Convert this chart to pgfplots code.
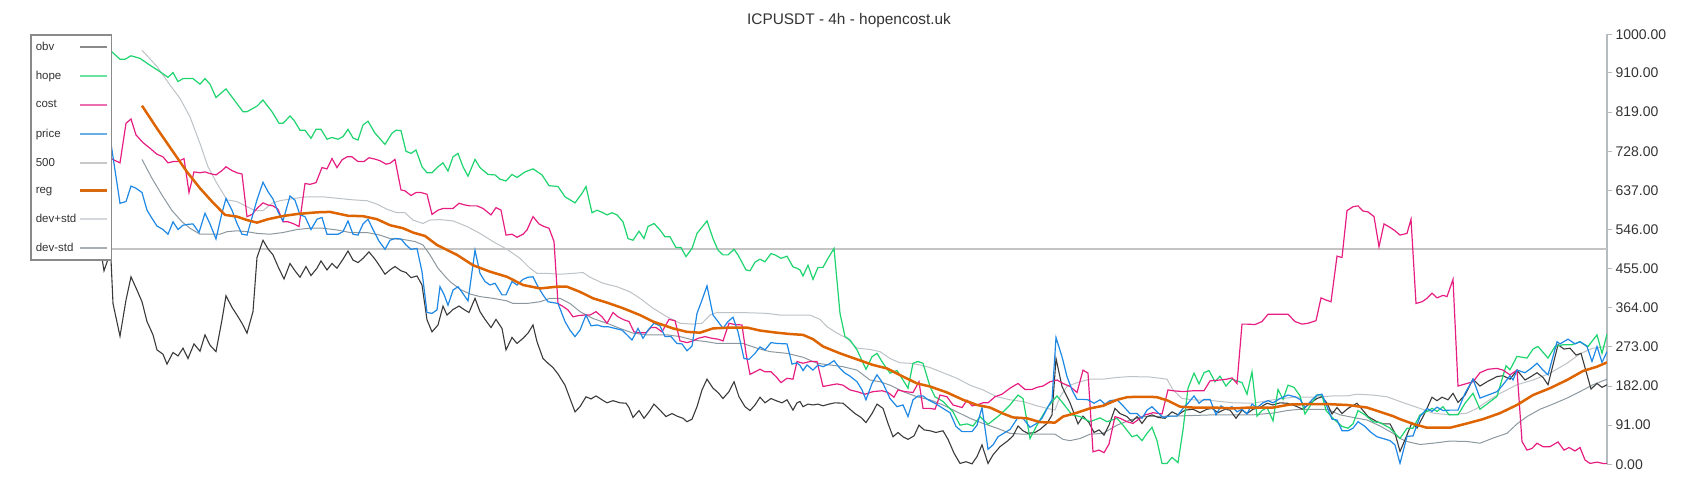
\documentclass[border=0pt]{standalone}
\usepackage{pgfplots}
\pgfplotsset{compat=1.18}
\usepackage{fontspec}
\setmainfont{Liberation Sans}
\definecolor{txt}{HTML}{333333}
\definecolor{axgray}{HTML}{B4BCC0}
\definecolor{cobv}{HTML}{3A3A3A}
\definecolor{chope}{HTML}{1ED46E}
\definecolor{ccost}{HTML}{E61E82}
\definecolor{cprice}{HTML}{1E88E5}
\definecolor{cfive}{HTML}{C4C4C4}
\definecolor{creg}{HTML}{DD6400}
\definecolor{cdevp}{HTML}{BCC2C6}
\definecolor{cdevm}{HTML}{8C98A0}
\definecolor{lobv}{HTML}{8A8A8A}
\definecolor{lhope}{HTML}{6BE3A0}
\definecolor{lcost}{HTML}{EC6EB0}
\definecolor{lprice}{HTML}{6AAEE8}
\definecolor{lfive}{HTML}{C8C8C8}
\definecolor{lreg}{HTML}{D86A10}
\definecolor{ldevp}{HTML}{D4D8DC}
\definecolor{ldevm}{HTML}{A8B0B6}
\begin{document}
\begin{tikzpicture}[x=1pt,y=1pt]
\path[use as bounding box] (0,0) rectangle (1700,500);
\node[font=\fontsize{15.4}{17}\selectfont, text=txt] at (849,479.5) {ICPUSDT - 4h - hopencost.uk};
\begin{axis}[
  at={(30pt,35.7pt)}, anchor=south west,
  scale only axis, width=1577pt, height=430pt,
  xmin=30, xmax=1607, ymin=0, ymax=1000,
  axis x line=none,
  axis y line*=right,
  y axis line style={draw=axgray, line width=1.5pt, -},
  ytick={0,91,182,273,364,455,546,637,728,819,910,1000},
  yticklabels={0.00,91.00,182.00,273.00,364.00,455.00,546.00,637.00,728.00,819.00,910.00,1000.00},
  tick align=outside,
  major tick length=5pt,
  ytick style={draw=axgray, line width=1pt},
  yticklabel style={font=\fontsize{14}{16}\selectfont, text=txt},
  legend style={at={(0,1)}, anchor=north west, draw=lobv, line width=1.5pt, fill=white,
    font=\fontsize{11.5}{13}\selectfont, text=txt, row sep=15.4pt, inner xsep=3pt, inner ysep=5pt},
  legend cell align=left,
  legend plot pos=right,
  legend image code/.code={\draw[#1] (0pt,0pt) -- (27pt,0pt);},
]
\addlegendimage{lobv, line width=2pt}\addlegendentry{obv}
\addlegendimage{lhope, line width=2pt}\addlegendentry{hope}
\addlegendimage{lcost, line width=2pt}\addlegendentry{cost}
\addlegendimage{lprice, line width=2pt}\addlegendentry{price}
\addlegendimage{lfive, line width=2pt}\addlegendentry{500}
\addlegendimage{lreg, line width=3pt}\addlegendentry{reg}
\addlegendimage{ldevp, line width=2pt}\addlegendentry{dev+std}
\addlegendimage{ldevm, line width=2pt}\addlegendentry{dev-std}

% 500
\addplot[forget plot, cfive, line width=2pt] coordinates {(30,500)(1607,500)};
% dev+std
\addplot[forget plot, cdevp, line width=1pt] coordinates {
(142,963)(157,925)(170,882)(180,851)(190,808)(200,746)(208,692)(217,653)(227,615)(237,611)(247,599)(255,590)(263,590)(272,607)(280,613)(293,618)(307,622)(323,622)(340,618)(353,615)(367,613)(377,605)(387,593)(397,585)(405,585)(413,568)(423,560)(430,568)(440,569)(453,566)(467,553)(480,537)(493,518)(507,500)(520,479)(530,456)(537,444)(547,444)(560,442)(573,444)(583,446)(590,435)(603,421)(617,413)(630,401)(640,386)(653,363)(667,343)(680,328)(693,326)(702,328)(710,347)(717,353)(740,353)(767,351)(780,347)(810,347)(820,337)(827,320)(837,305)(847,293)(857,270)(870,267)(880,262)(890,246)(900,236)(910,235)(920,231)(930,225)(943,213)(957,200)(970,184)(983,173)(997,157)(1010,150)(1023,146)(1037,136)(1047,130)(1055,126)(1060,157)(1067,181)(1077,190)(1090,198)(1103,198)(1117,202)(1130,204)(1150,203)(1167,198)(1173,173)(1182,153)(1193,150)(1213,148)(1233,143)(1253,142)(1273,150)(1293,156)(1313,156)(1333,159)(1347,159)(1357,163)(1373,161)(1387,157)(1400,146)(1410,138)(1420,130)(1433,119)(1450,115)(1467,119)(1477,130)(1487,146)(1500,165)(1517,185)(1533,196)(1550,212)(1567,235)(1580,257)(1593,270)(1607,274)};
% dev-std
\addplot[forget plot, cdevm, line width=1pt] coordinates {
(142,709)(152,665)(162,626)(172,590)(182,564)(190,549)(200,535)(220,535)(227,541)(237,543)(247,541)(257,537)(270,535)(283,539)(297,546)(310,549)(323,549)(337,545)(350,539)(367,539)(380,533)(390,525)(403,523)(415,518)(423,510)(430,487)(438,456)(447,432)(450,425)(460,407)(470,396)(480,390)(493,386)(507,380)(513,374)(527,374)(540,378)(550,386)(560,386)(570,374)(580,355)(593,339)(607,328)(620,316)(633,305)(647,301)(667,301)(680,297)(693,289)(707,285)(717,281)(743,281)(757,270)(770,262)(787,258)(803,249)(817,235)(830,231)(843,227)(857,219)(870,196)(880,192)(890,184)(903,169)(917,157)(930,150)(943,138)(957,122)(970,107)(983,95)(997,84)(1010,72)(1023,70)(1055,70)(1063,58)(1070,55)(1080,60)(1090,70)(1103,72)(1117,91)(1130,103)(1143,111)(1173,112)(1213,115)(1253,115)(1273,119)(1287,125)(1300,128)(1327,128)(1340,115)(1353,109)(1367,103)(1380,89)(1393,72)(1400,60)(1407,53)(1420,46)(1433,49)(1450,54)(1467,53)(1480,49)(1493,61)(1507,72)(1517,94)(1527,111)(1540,128)(1553,140)(1567,154)(1580,169)(1593,185)(1607,198)};
% obv
\addplot[forget plot, cobv, line width=1.1pt] coordinates {
(100,490)(102,479)(104,450)(108,477)(111,477)(113,374)(120,298)(126,382)(131,436)(137,405)(142,378)(147,332)(153,301)(157,266)(163,256)(167,233)(173,260)(178,252)(183,270)(188,246)(194,280)(200,263)(205,301)(210,277)(216,262)(222,336)(226,392)(232,365)(237,347)(242,328)(247,305)(253,355)(257,481)(263,521)(268,501)(273,487)(278,460)(284,431)(290,467)(295,450)(300,435)(306,460)(311,439)(317,456)(321,473)(327,452)(332,467)(337,456)(343,477)(348,496)(353,475)(358,469)(363,479)(369,494)(375,477)(380,460)(385,442)(390,452)(395,460)(401,450)(406,446)(411,434)(417,438)(422,417)(427,336)(432,308)(438,324)(443,368)(447,347)(453,360)(459,368)(464,360)(469,353)(475,386)(480,355)(485,337)(491,318)(496,337)(502,316)(506,266)(512,295)(517,281)(523,293)(528,305)(533,324)(537,285)(543,246)(548,235)(553,225)(558,210)(565,184)(570,153)(575,122)(580,134)(586,157)(591,152)(596,159)(602,150)(607,143)(613,148)(620,143)(626,142)(629,132)(633,109)(639,125)(644,107)(649,122)(654,140)(660,126)(666,111)(672,118)(677,112)(683,107)(687,99)(692,105)(697,134)(702,173)(707,198)(713,177)(718,167)(723,153)(729,169)(734,192)(739,157)(745,134)(750,125)(755,138)(760,156)(765,143)(771,153)(776,148)(782,143)(787,150)(793,126)(797,143)(800,146)(803,134)(808,140)(813,138)(818,140)(823,136)(829,140)(835,143)(843,142)(848,132)(855,118)(861,109)(866,97)(872,118)(877,140)(883,130)(888,95)(893,64)(898,74)(903,64)(908,58)(914,66)(919,91)(924,80)(930,78)(936,74)(943,78)(948,58)(954,26)(960,2)(966,6)(972,1)(977,18)(982,45)(988,2)(993,22)(1000,41)(1008,55)(1013,66)(1018,89)(1023,78)(1028,72)(1035,74)(1040,81)(1047,95)(1052,115)(1056,246)(1062,181)(1070,143)(1078,94)(1083,112)(1089,97)(1094,74)(1099,80)(1104,68)(1109,91)(1115,130)(1120,118)(1127,111)(1132,99)(1137,111)(1142,95)(1147,111)(1152,115)(1158,109)(1165,107)(1172,122)(1178,115)(1185,126)(1193,128)(1200,120)(1207,128)(1212,130)(1218,120)(1225,128)(1230,126)(1236,107)(1242,126)(1247,118)(1253,128)(1260,132)(1267,142)(1273,138)(1280,143)(1287,142)(1295,136)(1303,128)(1310,142)(1317,153)(1322,157)(1327,142)(1332,117)(1337,132)(1342,118)(1348,130)(1357,142)(1362,128)(1368,111)(1377,99)(1383,94)(1390,94)(1395,72)(1400,30)(1405,57)(1412,97)(1417,84)(1425,120)(1432,156)(1437,148)(1442,156)(1448,150)(1453,165)(1458,144)(1465,161)(1473,198)(1480,182)(1487,192)(1497,204)(1503,206)(1510,198)(1517,219)(1525,196)(1531,204)(1537,213)(1543,202)(1548,185)(1558,278)(1564,268)(1570,270)(1576,254)(1581,258)(1591,175)(1597,188)(1602,179)(1607,185)};
% hope
\addplot[forget plot, chope, line width=1.2pt] coordinates {
(100,965)(111,961)(120,942)(125,942)(131,950)(140,944)(150,928)(160,913)(168,900)(173,911)(178,890)(183,897)(193,897)(200,884)(205,897)(210,884)(216,853)(226,873)(233,851)(243,820)(247,820)(257,833)(263,847)(272,820)(279,793)(283,793)(290,810)(294,800)(300,777)(305,777)(311,758)(316,779)(321,779)(327,756)(332,760)(338,756)(343,762)(348,779)(353,759)(358,754)(363,789)(368,798)(375,770)(385,744)(392,770)(396,777)(401,776)(406,728)(411,723)(416,731)(422,692)(427,678)(432,678)(438,692)(443,701)(448,682)(453,715)(458,723)(463,692)(468,670)(475,709)(480,690)(488,674)(495,673)(500,663)(506,659)(512,674)(517,667)(525,680)(533,687)(542,673)(549,648)(558,646)(565,622)(575,608)(582,630)(586,646)(592,585)(597,591)(603,585)(607,580)(612,585)(617,580)(623,564)(628,525)(633,521)(639,542)(644,525)(648,553)(654,560)(660,545)(665,529)(670,529)(676,504)(681,504)(686,483)(692,502)(697,537)(707,566)(713,525)(718,498)(723,487)(728,487)(734,500)(738,487)(746,452)(750,450)(755,470)(760,477)(765,471)(771,490)(775,487)(781,479)(787,484)(793,459)(797,456)(800,452)(803,438)(808,463)(813,430)(818,458)(823,458)(828,479)(834,502)(840,351)(845,297)(850,289)(857,266)(866,221)(872,250)(877,258)(883,235)(890,212)(897,218)(903,196)(908,177)(913,235)(918,239)(923,235)(930,181)(935,157)(943,146)(953,122)(960,91)(967,94)(973,89)(980,111)(988,93)(1000,115)(1010,138)(1018,161)(1023,153)(1030,60)(1037,91)(1043,115)(1048,134)(1057,159)(1063,142)(1072,115)(1080,111)(1090,99)(1100,108)(1107,99)(1117,107)(1123,91)(1132,64)(1137,68)(1142,55)(1147,72)(1152,86)(1157,55)(1162,2)(1167,2)(1172,16)(1178,4)(1183,80)(1188,177)(1194,212)(1199,187)(1204,213)(1209,218)(1215,192)(1220,205)(1226,182)(1232,198)(1237,194)(1242,190)(1247,163)(1252,215)(1257,112)(1262,125)(1267,132)(1273,101)(1278,174)(1283,151)(1288,184)(1294,179)(1300,159)(1305,117)(1312,143)(1317,161)(1322,161)(1326,125)(1333,107)(1342,88)(1348,84)(1353,94)(1358,125)(1365,115)(1373,99)(1380,97)(1390,84)(1400,60)(1407,84)(1413,84)(1420,115)(1427,123)(1432,130)(1437,123)(1443,134)(1449,115)(1458,115)(1465,142)(1473,165)(1480,128)(1488,142)(1497,158)(1506,229)(1510,220)(1517,251)(1527,247)(1533,268)(1538,274)(1548,247)(1555,274)(1563,278)(1572,278)(1580,285)(1588,274)(1597,301)(1602,258)(1607,303)};
% cost
\addplot[forget plot, ccost, line width=1.2pt] coordinates {
(100,705)(111,711)(120,701)(126,793)(131,803)(136,766)(143,748)(150,735)(157,721)(163,715)(168,701)(173,704)(178,704)(184,711)(189,632)(194,680)(200,678)(205,680)(210,676)(216,673)(222,683)(226,692)(232,683)(237,678)(242,675)(247,576)(252,581)(257,595)(263,608)(268,603)(273,601)(278,593)(283,564)(288,564)(294,559)(299,553)(305,653)(310,651)(316,655)(322,690)(327,687)(332,711)(337,690)(342,708)(347,715)(352,715)(358,704)(364,704)(369,713)(376,709)(380,706)(386,698)(390,700)(395,709)(401,638)(405,636)(411,625)(416,632)(421,632)(427,628)(432,581)(438,591)(443,595)(447,595)(453,595)(459,607)(465,603)(470,601)(477,601)(483,595)(491,580)(496,597)(501,591)(506,533)(512,535)(517,528)(523,535)(527,545)(533,576)(539,559)(544,553)(549,549)(554,518)(558,374)(563,367)(568,359)(573,343)(579,346)(584,347)(590,347)(596,355)(602,343)(607,328)(613,353)(618,343)(624,336)(629,332)(634,308)(639,306)(646,306)(651,318)(656,318)(662,308)(669,337)(675,334)(680,287)(687,283)(693,287)(698,293)(705,297)(712,293)(718,291)(723,287)(729,328)(735,325)(742,324)(746,258)(750,209)(755,215)(760,221)(765,215)(771,215)(776,204)(781,190)(787,200)(793,198)(797,239)(803,235)(810,239)(817,239)(823,181)(830,184)(837,187)(843,184)(850,173)(857,169)(865,163)(873,169)(882,171)(888,167)(894,156)(898,173)(905,169)(913,167)(919,192)(923,130)(930,130)(935,128)(940,161)(947,157)(953,138)(962,132)(967,149)(972,136)(977,138)(983,143)(988,143)(995,157)(1002,163)(1010,177)(1018,188)(1025,174)(1032,174)(1037,179)(1043,182)(1050,192)(1057,196)(1063,188)(1070,181)(1077,167)(1083,219)(1088,212)(1093,29)(1099,33)(1104,27)(1109,47)(1115,111)(1120,107)(1127,99)(1133,95)(1140,107)(1145,115)(1150,118)(1153,120)(1162,117)(1168,173)(1173,171)(1183,169)(1193,171)(1204,171)(1210,194)(1220,196)(1227,198)(1232,201)(1237,188)(1242,326)(1247,326)(1255,325)(1262,332)(1268,349)(1275,349)(1282,349)(1288,349)(1295,332)(1302,326)(1308,328)(1316,334)(1321,387)(1326,382)(1331,378)(1337,484)(1342,481)(1347,590)(1353,599)(1358,601)(1363,589)(1368,587)(1374,576)(1379,506)(1384,559)(1390,551)(1395,543)(1400,533)(1407,537)(1411,570)(1416,374)(1422,378)(1427,386)(1432,398)(1437,387)(1443,393)(1447,390)(1453,430)(1458,182)(1467,188)(1473,192)(1480,213)(1488,221)(1497,223)(1503,219)(1510,208)(1517,219)(1522,53)(1527,33)(1532,37)(1537,49)(1543,41)(1550,41)(1558,52)(1564,33)(1569,39)(1575,31)(1580,39)(1585,10)(1590,2)(1597,5)(1603,2)(1607,2)};
% price
\addplot[forget plot, cprice, line width=1.2pt] coordinates {
(100,770)(111,746)(115,684)(120,607)(126,611)(131,647)(136,642)(142,632)(147,591)(152,572)(157,554)(163,546)(168,535)(173,564)(178,546)(183,556)(188,558)(193,559)(199,539)(205,584)(210,559)(216,524)(222,585)(226,618)(232,591)(237,560)(242,535)(247,533)(252,574)(257,615)(263,656)(268,634)(273,617)(278,587)(283,566)(290,624)(295,614)(300,580)(305,576)(311,546)(317,570)(322,574)(327,535)(333,535)(338,535)(343,541)(348,566)(353,535)(358,533)(363,559)(368,570)(373,546)(379,519)(385,500)(390,521)(395,525)(401,524)(406,510)(411,500)(417,502)(422,448)(427,353)(432,351)(437,359)(440,413)(444,395)(448,370)(453,405)(458,413)(463,397)(468,380)(475,498)(480,444)(485,425)(490,417)(495,421)(502,394)(506,394)(512,425)(517,417)(523,430)(528,435)(533,436)(538,413)(543,394)(548,378)(553,376)(558,374)(565,332)(570,312)(575,297)(580,312)(586,347)(591,322)(597,324)(603,320)(608,320)(615,316)(622,312)(627,301)(632,289)(638,316)(643,293)(648,312)(654,328)(660,322)(665,297)(671,297)(677,281)(682,280)(687,264)(692,275)(697,351)(702,382)(707,415)(713,347)(718,332)(723,316)(728,332)(733,342)(738,308)(744,246)(749,244)(755,258)(760,273)(765,266)(771,283)(777,281)(787,280)(792,233)(797,236)(800,230)(803,218)(807,231)(813,219)(818,231)(823,227)(829,233)(834,241)(840,223)(845,212)(850,205)(857,192)(862,173)(866,150)(872,188)(877,208)(883,188)(890,153)(897,134)(903,138)(908,111)(913,150)(918,159)(923,159)(928,150)(935,142)(943,130)(950,120)(956,88)(962,76)(972,76)(977,91)(982,132)(988,35)(993,45)(998,64)(1010,81)(1018,109)(1023,107)(1030,86)(1036,94)(1042,107)(1048,134)(1052,150)(1056,295)(1062,250)(1067,204)(1072,173)(1077,151)(1083,151)(1088,150)(1094,142)(1100,150)(1105,140)(1110,148)(1117,150)(1123,136)(1130,118)(1137,118)(1142,107)(1147,126)(1152,134)(1158,120)(1163,109)(1170,112)(1177,112)(1183,130)(1188,142)(1194,159)(1199,142)(1204,151)(1210,151)(1216,115)(1221,136)(1226,128)(1232,134)(1237,122)(1242,128)(1247,117)(1252,140)(1257,132)(1263,143)(1268,148)(1273,143)(1280,153)(1288,161)(1295,157)(1300,151)(1305,132)(1312,150)(1317,161)(1322,163)(1327,134)(1332,105)(1337,103)(1342,78)(1348,78)(1353,84)(1358,99)(1365,88)(1370,76)(1377,64)(1383,60)(1390,55)(1395,45)(1400,2)(1407,65)(1413,66)(1420,111)(1427,130)(1432,123)(1437,133)(1443,125)(1450,126)(1458,126)(1465,165)(1473,198)(1480,154)(1488,161)(1497,169)(1503,185)(1510,206)(1513,196)(1517,219)(1525,213)(1531,223)(1537,235)(1543,219)(1548,208)(1557,285)(1560,280)(1568,291)(1575,280)(1580,285)(1587,274)(1592,239)(1597,274)(1602,237)(1607,262)};
% reg
\addplot[forget plot, creg, line width=2.5pt, line join=round] coordinates {
(142,834)(157,781)(173,727)(187,680)(200,642)(212,611)(225,580)(237,576)(247,568)(257,562)(268,570)(282,577)(297,582)(317,586)(330,587)(348,578)(363,577)(377,570)(390,556)(403,549)(413,539)(425,531)(437,510)(457,487)(473,463)(490,448)(507,436)(523,417)(540,409)(557,413)(567,413)(580,401)(593,386)(607,376)(623,363)(640,347)(653,332)(673,316)(687,308)(700,306)(713,316)(730,318)(747,318)(760,311)(777,306)(790,303)(803,301)(813,291)(823,274)(840,258)(857,244)(873,231)(887,223)(903,204)(917,188)(930,181)(947,167)(963,150)(977,138)(990,132)(1003,118)(1013,109)(1027,107)(1040,98)(1055,97)(1063,111)(1077,120)(1090,130)(1103,136)(1117,150)(1127,156)(1137,157)(1150,157)(1157,156)(1168,148)(1180,134)(1193,132)(1213,132)(1233,130)(1250,132)(1273,132)(1290,139)(1307,140)(1327,140)(1347,138)(1367,132)(1380,122)(1393,112)(1400,105)(1413,94)(1427,85)(1450,85)(1467,95)(1483,105)(1500,119)(1517,138)(1533,161)(1550,177)(1567,196)(1583,217)(1597,227)(1607,237)};
\end{axis}
\end{tikzpicture}
\end{document}
